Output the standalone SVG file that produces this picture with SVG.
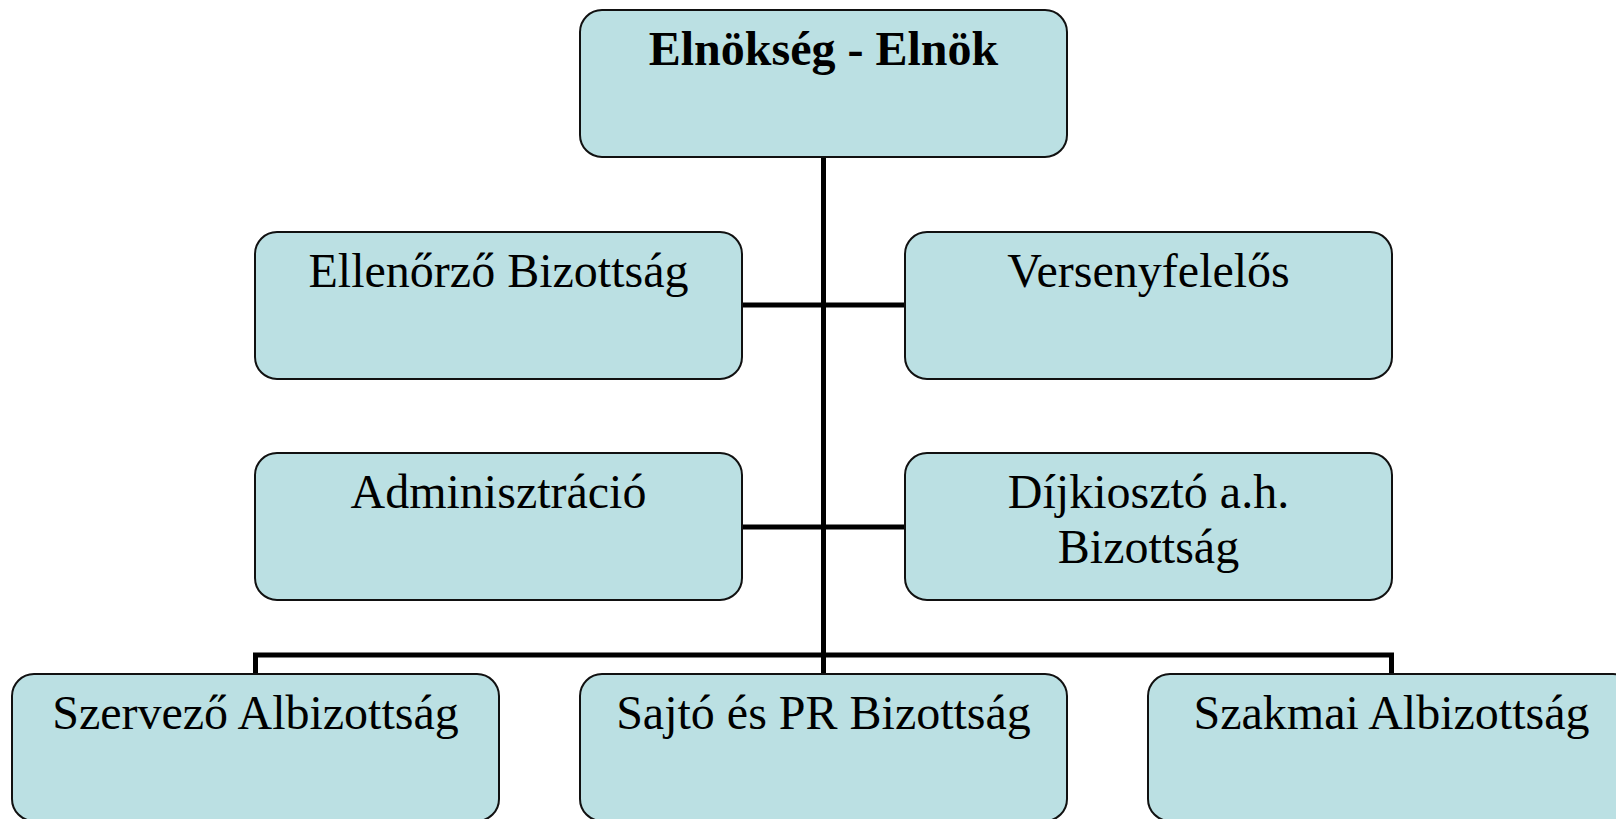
<svg xmlns="http://www.w3.org/2000/svg" width="1616" height="819" viewBox="0 0 1616 819">
<style>
.box{fill:#BBE0E3;stroke:#111;stroke-width:2}
.t{font-family:"Liberation Serif","Times New Roman",serif;font-size:48px;fill:#000;text-anchor:middle}
.b{font-weight:bold}
.c{fill:none;stroke:#000;stroke-width:5}
</style>
<rect width="1616" height="819" fill="#fff"/>
<g id="connectors">
<path class="c" d="M823.5 157 V674"/>
<path class="c" d="M742 305 H905"/>
<path class="c" d="M742 527 H905"/>
<path class="c" d="M255.5 674 V655 H1391.5 V674"/>
</g>
<g id="n-elnokseg"><rect class="box" x="580" y="10" width="487" height="147" rx="22"/><text class="t b" x="823.5" y="65">Elnökség - Elnök</text></g>
<g id="n-ellenorzo"><rect class="box" x="255" y="232" width="487" height="147" rx="22"/><text class="t" x="498.5" y="287">Ellenőrző Bizottság</text></g>
<g id="n-verseny"><rect class="box" x="905" y="232" width="487" height="147" rx="22"/><text class="t" x="1148.5" y="287">Versenyfelelős</text></g>
<g id="n-admin"><rect class="box" x="255" y="453" width="487" height="147" rx="22"/><text class="t" x="498.5" y="508">Adminisztráció</text></g>
<g id="n-dij"><rect class="box" x="905" y="453" width="487" height="147" rx="22"/><text class="t" x="1148.5" y="508">Díjkiosztó a.h.</text><text class="t" x="1148.5" y="563">Bizottság</text></g>
<g id="n-szervezo"><rect class="box" x="12" y="674" width="487" height="147" rx="22"/><text class="t" x="255.5" y="729">Szervező Albizottság</text></g>
<g id="n-sajto"><rect class="box" x="580" y="674" width="487" height="147" rx="22"/><text class="t" x="823.5" y="729">Sajtó és PR Bizottság</text></g>
<g id="n-szakmai"><rect class="box" x="1148" y="674" width="487" height="147" rx="22"/><text class="t" x="1391.5" y="729">Szakmai Albizottság</text></g>
</svg>
